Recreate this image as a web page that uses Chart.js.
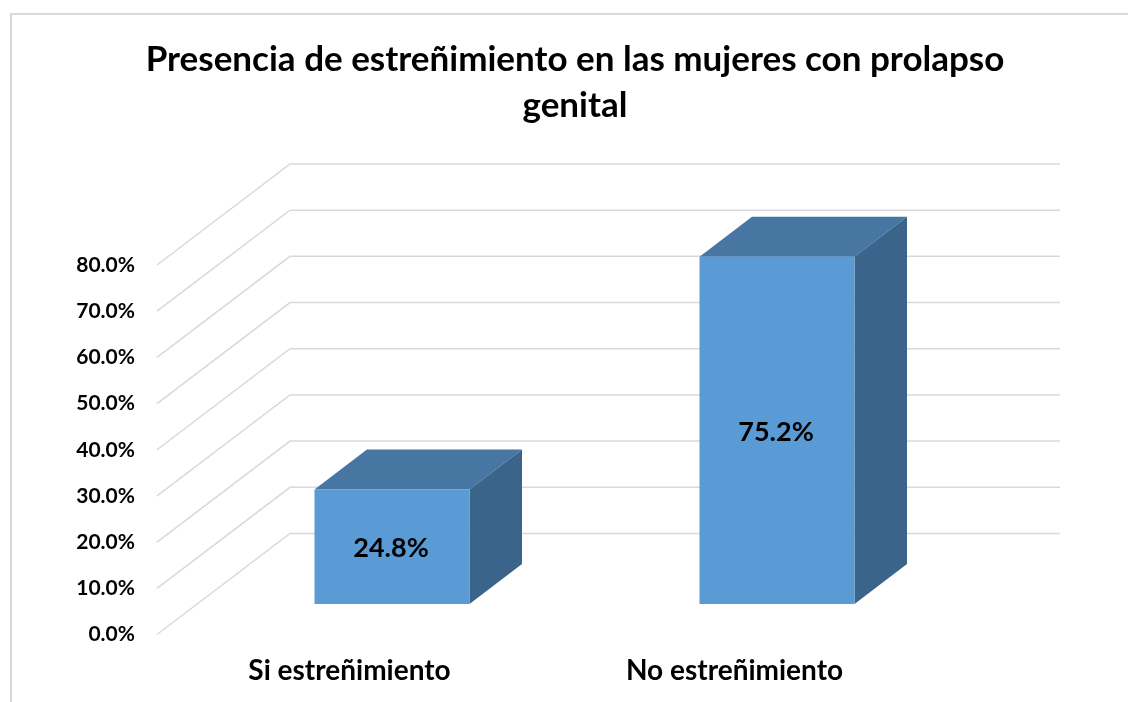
<!DOCTYPE html>
<html>
<head>
<meta charset="utf-8">
<script src="https://cdn.jsdelivr.net/npm/chart.js@4"></script>
<style>
html,body{margin:0;padding:0;background:#fff;overflow:hidden}
#wrap{position:absolute;left:0;top:0;width:1128px;height:702px;overflow:hidden}
#frame{position:absolute;left:10px;top:13px;width:1300px;height:900px;border-left:2px solid #D9D9D9;border-top:2px solid #D9D9D9}
canvas{position:absolute;left:0;top:0}
</style>
</head>
<body>
<div id="wrap"><div id="frame"></div><canvas id="c" width="1128" height="702"></canvas></div>
<script>
const categories = ["Si estreñimiento", "No estreñimiento"];
const values = [24.8, 75.2];
const titleLines = ["Presencia de estreñimiento en las mujeres con prolapso", "genital"];
const yMin = 0, yMax = 80, yStep = 10;

const FONT = "Lato, Carlito, sans-serif";
const WALL = {dx: 133, dy: -101};
const BAR_SHIFT = {dx: 42.5, dy: -30.5};
const BAR_DEPTH = {dx: 52.5, dy: -40};
const FRONT = "#5B9BD5", TOP = "#4676A1", SIDE = "#3A6489", GRID = "#D9D9D9";

const depthPlugin = {
  id: "depth",
  beforeDatasetsDraw(chart) {
    const ctx = chart.ctx, y = chart.scales.y, a = chart.chartArea;
    ctx.save();
    ctx.strokeStyle = GRID;
    ctx.lineWidth = 1.5;
    y.ticks.forEach(t => {
      const py = y.getPixelForValue(t.value);
      ctx.beginPath();
      ctx.moveTo(a.left, py);
      ctx.lineTo(a.left + WALL.dx, py + WALL.dy);
      ctx.lineTo(a.right + WALL.dx, py + WALL.dy);
      ctx.stroke();
    });
    ctx.restore();
    ctx.save();
    ctx.translate(BAR_SHIFT.dx, BAR_SHIFT.dy);
    chart.getDatasetMeta(0).data.forEach(b => {
      const l = b.x - b.width / 2, r = b.x + b.width / 2, t = b.y, u = b.base;
      ctx.fillStyle = TOP;
      ctx.beginPath();
      ctx.moveTo(l, t);
      ctx.lineTo(l + BAR_DEPTH.dx, t + BAR_DEPTH.dy);
      ctx.lineTo(r + BAR_DEPTH.dx, t + BAR_DEPTH.dy);
      ctx.lineTo(r, t);
      ctx.closePath();
      ctx.fill();
      ctx.fillStyle = SIDE;
      ctx.beginPath();
      ctx.moveTo(r, t);
      ctx.lineTo(r + BAR_DEPTH.dx, t + BAR_DEPTH.dy);
      ctx.lineTo(r + BAR_DEPTH.dx, u + BAR_DEPTH.dy);
      ctx.lineTo(r, u);
      ctx.closePath();
      ctx.fill();
    });
  },
  afterDatasetsDraw(chart) {
    const ctx = chart.ctx, ds = chart.data.datasets[0];
    ctx.fillStyle = "#000";
    ctx.font = "bold 27px " + FONT;
    ctx.textAlign = "center";
    ctx.textBaseline = "middle";
    chart.getDatasetMeta(0).data.forEach((b, i) => {
      ctx.fillText(ds.data[i].toFixed(1) + "%", b.x - 1, (b.y + b.base) / 2 + 2);
    });
    ctx.restore();
  }
};

new Chart(document.getElementById("c"), {
  type: "bar",
  data: {
    labels: categories,
    datasets: [{
      data: values,
      backgroundColor: FRONT,
      borderWidth: 0,
      barPercentage: 0.4026,
      categoryPercentage: 1,
      clip: false
    }]
  },
  plugins: [depthPlugin],
  options: {
    responsive: false,
    animation: false,
    devicePixelRatio: 1,
    layout: {padding: {left: 22, right: 0, top: 0, bottom: 0}},
    plugins: {
      legend: {display: false},
      tooltip: {enabled: false},
      title: {
        display: true,
        text: titleLines,
        color: "#000",
        font: {family: FONT, size: 35, weight: "bold", lineHeight: 1.314},
        padding: {top: 37, bottom: 136}
      }
    },
    scales: {
      x: {
        grid: {display: false, drawTicks: false},
        border: {display: false},
        ticks: {color: "#000", font: {family: FONT, size: 28, weight: "bold"}, padding: 20, maxRotation: 0, autoSkip: false},
        afterFit(s) { s.height = 67.5; }
      },
      y: {
        min: yMin, max: yMax,
        grid: {display: false, drawTicks: false},
        border: {display: false},
        ticks: {
          stepSize: yStep, color: "#000", padding: 22,
          font: {family: FONT, size: 21, weight: "bold"},
          callback: v => v.toFixed(1) + "%"
        },
        afterFit(s) { s.width = 135; }
      },
      yr: {
        position: "right",
        grid: {display: false, drawTicks: false},
        border: {display: false},
        ticks: {display: false},
        afterFit(s) { s.width = 201; }
      }
    }
  }
});
</script>
</body>
</html>
